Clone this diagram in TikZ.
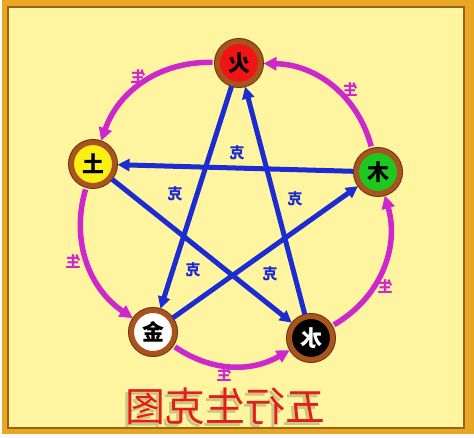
\documentclass[tikz,border=0pt]{standalone}
\usepackage{fontspec}
\usepackage{graphicx}
\usetikzlibrary{arrows.meta}
\newfontfamily\cjk{Noto Sans CJK SC}
\definecolor{gold}{RGB}{232,166,36}
\definecolor{golddark}{RGB}{150,100,20}
\definecolor{paper}{RGB}{255,244,160}
\definecolor{ring}{RGB}{168,84,30}
\definecolor{ringdark}{RGB}{110,50,15}
\definecolor{kblue}{RGB}{28,44,210}
\definecolor{smag}{RGB}{204,40,204}
\definecolor{fire}{RGB}{240,20,20}
\definecolor{earth}{RGB}{250,240,20}
\definecolor{wood}{RGB}{30,200,30}
\definecolor{titlered}{RGB}{225,30,30}
\definecolor{shadowc}{RGB}{110,110,60}
\tikzset{
 elem/.style={circle, minimum size=43pt, inner sep=0pt, outer sep=3pt, draw=ring, line width=5pt, preaction={draw=ringdark, line width=7pt}, font=\cjk\bfseries\fontsize{22}{22}\selectfont},
 ke/.style={draw=kblue, line width=5pt, -{Triangle[length=12pt,width=12pt]}},
 sheng/.style={draw=smag, line width=5.5pt, -{Triangle[length=13pt,width=13pt]}, shorten <=2pt},
 kelab/.style={text=kblue, font=\cjk\bfseries\fontsize{15}{15}\selectfont},
 shenglab/.style={text=smag, font=\cjk\bfseries\fontsize{15}{15}\selectfont},
 titlefont/.style={font=\cjk\fontsize{40}{40}\selectfont},
}
\begin{document}
\begin{tikzpicture}[x=1pt,y=1pt]
\useasboundingbox (0,0) rectangle (474,437);
\fill[white] (0,0) rectangle (474,437);
\fill[gold] (2,3) rectangle (474,437);
\fill[paper] (8,9) rectangle (464,430);
\draw[golddark, line width=1.5pt] (8,9) rectangle (464,430);

\node[elem, fill=fire] (huo) at (239,374) {\reflectbox{火}};
\node[elem, fill=earth] (tu) at (93,273) {\reflectbox{土}};
\node[elem, fill=wood] (mu) at (378,265) {\reflectbox{木}};
\node[elem, fill=white] (jin) at (153,105) {\reflectbox{金}};
\node[elem, fill=black, text=white] (shui) at (311,99) {\reflectbox{水}};

\draw[ke] (mu) -- (tu);
\draw[ke] (huo) -- (jin);
\draw[ke] (shui) -- (huo);
\draw[ke] (tu) -- (shui);
\draw[ke] (jin) -- (mu);

\draw[sheng] (huo) to[bend right=36] (tu);
\draw[sheng] (tu) to[bend right=36] (jin);
\draw[sheng] (jin) to[bend right=32] (shui);
\draw[sheng] (shui) to[bend right=38] (mu);
\draw[sheng] (mu) to[bend right=37] (huo);

\node[kelab] (k1) at (237,284) {\reflectbox{克}};
\node[kelab] (k2) at (175,243) {\reflectbox{克}};
\node[kelab] (k3) at (295,238) {\reflectbox{克}};
\node[kelab] (k4) at (193,167) {\reflectbox{克}};
\node[kelab] (k5) at (270,163) {\reflectbox{克}};

\node[shenglab] (s1) at (138,360) {\reflectbox{生}};
\node[shenglab] (s2) at (350,347) {\reflectbox{生}};
\node[shenglab] (s3) at (73,175) {\reflectbox{生}};
\node[shenglab] (s4) at (385,150) {\reflectbox{生}};
\node[shenglab] (s5) at (224,62) {\reflectbox{生}};

\node[titlefont, text=shadowc, opacity=0.35] (tshadow) at (222,28) {\reflectbox{五行生克图}};
\node[titlefont, text=titlered] (title) at (225,31) {\reflectbox{五行生克图}};
\end{tikzpicture}
\end{document}
